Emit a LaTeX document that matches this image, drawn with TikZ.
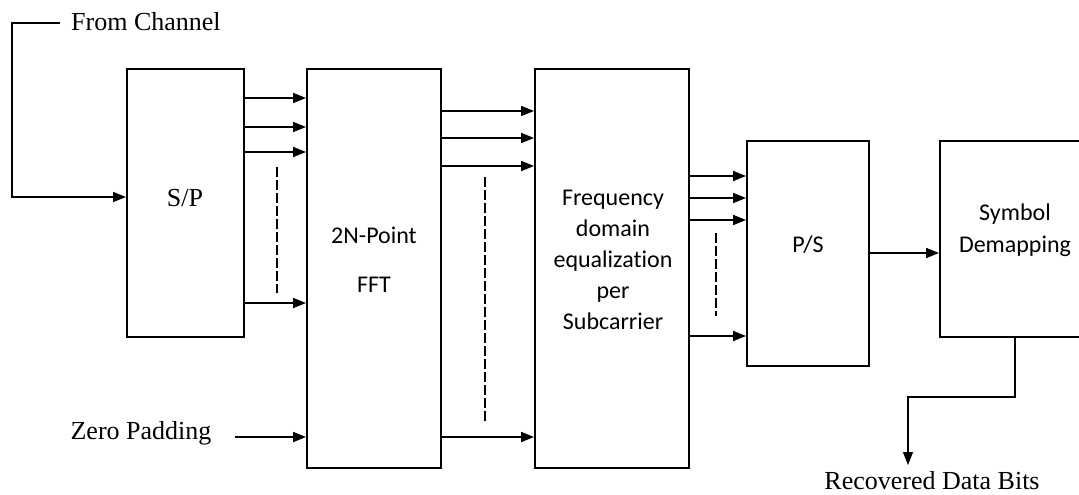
\documentclass[tikz,border=0pt]{standalone}
\usepackage{fontspec}
\setmainfont{Liberation Serif}
\newfontfamily\calfont[Ligatures=NoCommon]{Carlito}
\usetikzlibrary{arrows.meta}
\begin{document}
\begin{tikzpicture}[x=1pt,y=-1pt,
  blk/.style={draw, line width=1.9pt, rectangle, inner sep=0pt},
  arr/.style={line width=1.7pt, -{Triangle[length=13pt,width=10pt]}},
  thinarr/.style={line width=1.2pt, -{Triangle[length=13pt,width=10pt]}},
  dsh/.style={line width=1.2pt, dash pattern=on 10pt off 3pt},
  serif/.style={font=\fontsize{26}{30}\selectfont, inner sep=0pt},
  cal/.style={font=\calfont\fontsize{24}{31}\selectfont, inner sep=0pt, align=center}]
\clip (0,0) rectangle (1079,495);
\fill[white] (0,0) rectangle (1079,495);
% boxes
\node[blk, minimum width=117pt, minimum height=268pt] (sp) at (185.5,203) {};
\node[blk, minimum width=134pt, minimum height=399pt] (fft) at (374,268.5) {};
\node[blk, minimum width=154pt, minimum height=399pt] (eq) at (612,268.5) {};
\node[blk, minimum width=122pt, minimum height=225pt] (ps) at (808,253.5) {};
\node[blk, minimum width=150pt, minimum height=196pt] (sym) at (1015,239) {};
% texts
\node[serif] (spt) at (185,198) {S/P};
\node[cal, font=\calfont\fontsize{24}{49}\selectfont] (fftt) at (374,260) {2N-Point\\FFT};
\node[cal] (eqt) at (613,260) {Frequency\\domain\\equalization\\per\\Subcarrier};
\node[cal] (pst) at (808,245) {P/S};
\node[cal, font=\calfont\fontsize{24}{32}\selectfont] (symt) at (1015,230) {Symbol\\Demapping};
\node[serif, anchor=west] (fc) at (71,22) {From Channel};
\node[serif] (zp) at (141,433) {Zero Padding};
\node[serif] (rec) at (932,481) {Recovered Data Bits};
% from channel
\coordinate (c0) at (60,23);
\coordinate (c1) at (12,23);
\draw[thinarr] (c0) -- (c1) |- (sp.west |- 0,197);
% S/P -> FFT
\foreach \yy in {98,127,152,303}
  \draw[arr] (sp.east |- 0,\yy) -- (fft.west |- 0,\yy);
\draw[dsh] (277,167) -- (277,293);
% zero padding
\coordinate (z0) at (235,437);
\draw[arr] (z0) -- (fft.west |- z0);
% FFT -> Eq
\foreach \yy in {111,138,166,437}
  \draw[arr] (fft.east |- 0,\yy) -- (eq.west |- 0,\yy);
\draw[dsh] (485,177) -- (485,423);
% Eq -> P/S
\foreach \yy in {176,198,220,336}
  \draw[arr] (eq.east |- 0,\yy) -- (ps.west |- 0,\yy);
\draw[dsh] (716,233) -- (716,316);
% P/S -> Sym
\draw[arr] (ps.east |- 0,253) -- (sym.west |- 0,253);
% output
\coordinate (o1) at (1015,397);
\coordinate (o2) at (908,397);
\coordinate (o3) at (908,465);
\draw[thinarr] (sym.south) -- (o1) -- (o2) -- (o3);
\end{tikzpicture}
\end{document}
